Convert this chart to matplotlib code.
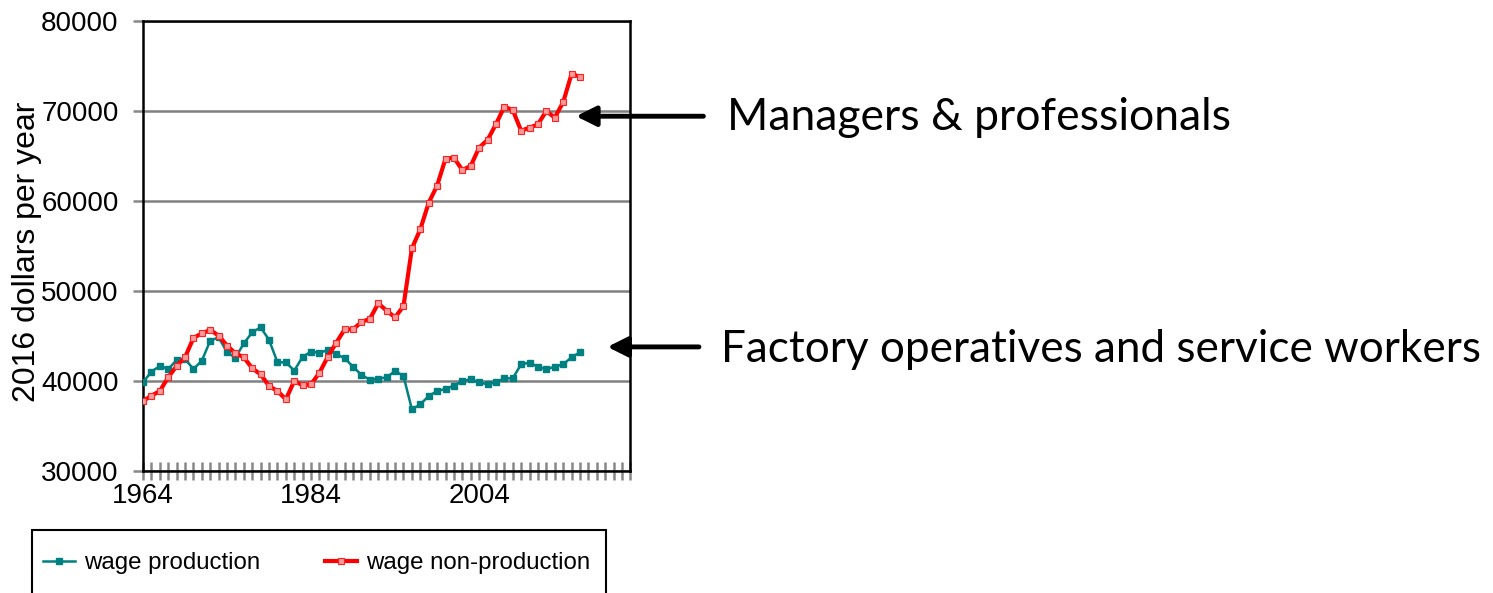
import numpy as np
import matplotlib.pyplot as plt
from matplotlib.ticker import MultipleLocator
from matplotlib.patches import Rectangle

# wages in 2016 dollars, 1964-2016
years = np.arange(1964, 2017)
wage_production = [39850, 41040, 41670, 41330, 42330, 42440, 41330, 42260, 44480, 44850,
                   43190, 42590, 44190, 45410, 45970, 44560, 42080, 42080, 41150, 42700,
                   43260, 43150, 43440, 43000, 42520, 41590, 40670, 40150, 40250, 40410,
                   41110, 40560, 36850, 37410, 38330, 38890, 39110, 39480, 40000, 40190,
                   39850, 39630, 39850, 40300, 40300, 41850, 42040, 41590, 41300, 41590,
                   41850, 42630, 43190]
wage_nonproduction = [37780, 38370, 38890, 40410, 41670, 42630, 44780, 45300, 45670, 45040,
                      43930, 43070, 42630, 41410, 40740, 39440, 38890, 37960, 40000, 39520,
                      39630, 40930, 42700, 44260, 45740, 45740, 46560, 46910, 48630, 47800,
                      47070, 48320, 54740, 56850, 59810, 61700, 64700, 64810, 63440, 63890,
                      65930, 66780, 68520, 70480, 70110, 67810, 68150, 68520, 70000, 69260,
                      70960, 74110, 73810]
year_labels = [1964, 1984, 2004]

fig = plt.figure(figsize=(14.93, 5.93), dpi=100)
fig.set_facecolor('white')
ax = fig.add_axes([0.0958, 0.2057, 0.3264, 0.7589])

ax.plot(years, wage_production, color='#008080', linewidth=1.8, marker='s',
        markersize=5, markerfacecolor='#008080', markeredgecolor='#008080',
        label='wage production', zorder=3)
ax.plot(years, wage_nonproduction, color='#FF0000', linewidth=3.0, marker='s',
        markersize=4, markerfacecolor='#FF9A9A', markeredgecolor='#FF2020',
        markeredgewidth=0.8, label='wage non-production', zorder=4)

ax.set_xlim(1964, 2022)
ax.set_ylim(30000, 80000)
ax.set_xticks(year_labels)
ax.set_xticklabels([str(y) for y in year_labels], fontsize=20, family='Liberation Sans')
ax.xaxis.set_minor_locator(MultipleLocator(1))
ax.tick_params(axis='x', which='both', direction='inout', length=13, width=1.8,
               color='#888888', pad=2)
ax.set_yticks(np.arange(30000, 80001, 10000))
ax.set_yticklabels([str(v) for v in range(30000, 80001, 10000)], fontsize=20,
                   family='Liberation Sans')
ax.tick_params(axis='y', direction='out', length=7, width=1.8, color='#888888', pad=10.5)
ax.yaxis.grid(True, color='#808080', linewidth=1.8)
ax.set_axisbelow(True)
for s in ax.spines.values():
    s.set_color('black')
    s.set_linewidth(1.8)

ax.set_ylabel('2016 dollars per year', fontsize=23, family='Liberation Sans')
ax.yaxis.set_label_coords(-0.207, 0.487)

# legend box drawn separately, legend entries placed inside it
fig.patches.append(Rectangle((32 / 1493, -0.01), 574 / 1493, 0.1162,
                             transform=fig.transFigure, fill=False, edgecolor='black',
                             linewidth=1.5))
leg = ax.legend(loc='center left', bbox_to_anchor=(43 / 1493, 1 - 563 / 593),
                bbox_transform=fig.transFigure, ncol=2, frameon=False,
                borderaxespad=0, borderpad=0, prop={'family': 'Liberation Sans', 'size': 17.3},
                handlelength=1.35, handletextpad=0.35, columnspacing=2.7)

arrow = dict(arrowstyle='-|>', color='black', lw=3.5, mutation_scale=30)
fig.text(0.487, 0.802, 'Managers & professionals', fontsize=32, family='Lato',
         va='center', ha='left')
ax.annotate('', xy=(0.384, 0.804), xytext=(0.473, 0.804), xycoords='figure fraction',
            textcoords='figure fraction', arrowprops=arrow, annotation_clip=False)
fig.text(0.483, 0.411, 'Factory operatives and service workers', fontsize=31.8, family='Lato',
         va='center', ha='left')
ax.annotate('', xy=(0.405, 0.415), xytext=(0.470, 0.415), xycoords='figure fraction',
            textcoords='figure fraction', arrowprops=arrow, annotation_clip=False)

plt.savefig('out.png', dpi=100)
